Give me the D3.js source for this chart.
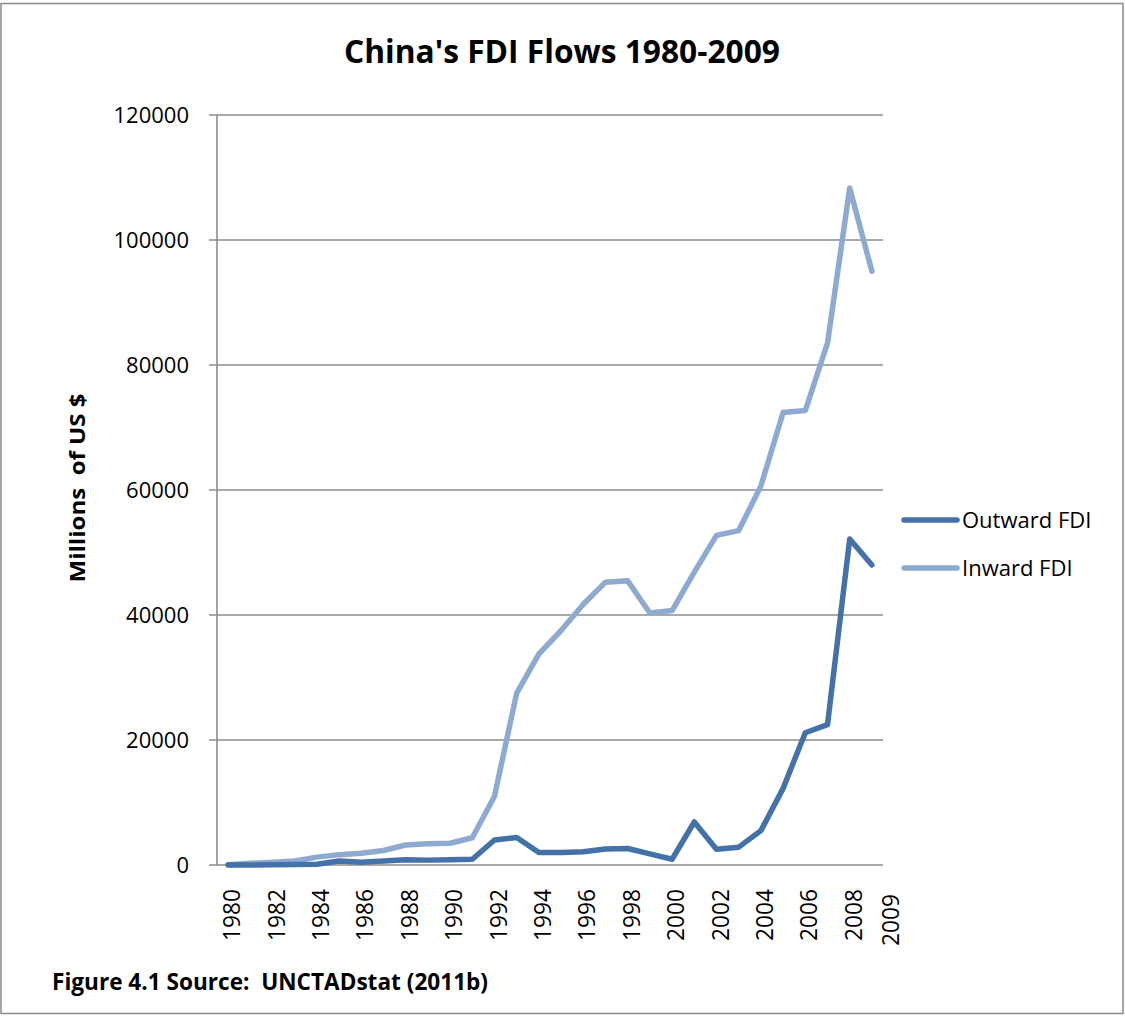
<!DOCTYPE html>
<html>
<head>
<meta charset="utf-8">
<script src="https://cdn.jsdelivr.net/npm/d3@7"></script>
<style>
  html, body { margin: 0; padding: 0; background: #fff; }
  svg { display: block; }
  text { font-family: "Open Sans", "Noto Sans", sans-serif; fill: #000; }
</style>
</head>
<body>
<div id="chart"></div>
<script>
const years = [1980,1981,1982,1983,1984,1985,1986,1987,1988,1989,1990,1991,1992,1993,1994,1995,1996,1997,1998,1999,2000,2001,2002,2003,2004,2005,2006,2007,2008,2009];
const outwardFDI = [0,0,44,93,134,629,450,645,850,780,830,913,4000,4400,2000,2000,2114,2563,2634,1775,916,6885,2518,2855,5498,12261,21160,22469,52150,48000];
const inwardFDI = [57,265,430,636,1258,1659,1875,2314,3194,3393,3487,4366,11008,27515,33767,37521,41726,45257,45463,40319,40715,46878,52743,53505,60630,72406,72715,83521,108312,95000];
const yTicks = [0,20000,40000,60000,80000,100000,120000];
const xTickLabels = [1980,1982,1984,1986,1988,1990,1992,1994,1996,1998,2000,2002,2004,2006,2008,2009];
const seriesNames = ["Outward FDI","Inward FDI"];
const seriesColors = ["#4472a8","#8faad1"];
const titleText = "China's FDI Flows 1980-2009";
const yTitle = "Millions  of US $";
const footText = "Figure 4.1 Source:  UNCTADstat (2011b)";

const W = 1125, H = 1016;
const plot = {left: 217, right: 883, top: 115, bottom: 865};

const svg = d3.select("#chart").append("svg").attr("width", W).attr("height", H);

// outer border
svg.append("rect").attr("x", 1).attr("y", 3.5).attr("width", W - 3).attr("height", 1010)
  .attr("fill", "#fff").attr("stroke", "#8a8a8a").attr("stroke-width", 1.5);

const x = d3.scaleBand().domain(years).range([plot.left, plot.right]).padding(0);
const xc = d => x(d) + x.bandwidth() / 2;
const y = d3.scaleLinear().domain([0, 120000]).range([plot.bottom, plot.top]);

// gridlines
svg.append("g").selectAll("line").data(yTicks).join("line")
  .attr("x1", plot.left - 8).attr("x2", plot.right)
  .attr("y1", d => y(d)).attr("y2", d => y(d))
  .attr("stroke", "#8c8c8c").attr("stroke-width", 1.6);

// y axis line
svg.append("line").attr("x1", plot.left).attr("x2", plot.left)
  .attr("y1", plot.top).attr("y2", plot.bottom)
  .attr("stroke", "#8c8c8c").attr("stroke-width", 1.6);

// y tick labels
svg.append("g").selectAll("text").data(yTicks).join("text")
  .attr("x", 189).attr("y", d => y(d)).attr("dy", "0.36em")
  .attr("text-anchor", "end").style("font-size", "22px")
  .text(d => d);

// x tick labels
svg.append("g").selectAll("text").data(xTickLabels).join("text")
  .attr("transform", (d, i) => {
    const last = i === xTickLabels.length - 1;
    const px = xc(d) + (last ? 18 : 3);
    const py = last ? 894 : 889;
    return `translate(${px},${py}) rotate(-90)`;
  })
  .attr("text-anchor", "end").attr("dominant-baseline", "central")
  .style("font-size", "23px")
  .attr("textLength", 52).attr("lengthAdjust", "spacingAndGlyphs")
  .text(d => d);

// lines
const line = d3.line().x((d, i) => xc(years[i])).y(d => y(d));
[inwardFDI, outwardFDI].forEach((s, k) => {
  const idx = k === 0 ? 1 : 0;
  svg.append("path").datum(s).attr("d", line)
    .attr("fill", "none").attr("stroke", seriesColors[idx]).attr("stroke-width", 5.5)
    .attr("stroke-linejoin", "round").attr("stroke-linecap", "round");
});

// title
svg.append("text").attr("x", 562).attr("y", 63).attr("text-anchor", "middle")
  .style("font-size", "33px").style("font-weight", "bold")
  .attr("textLength", 436).attr("lengthAdjust", "spacingAndGlyphs")
  .text(titleText);

// y axis title
svg.append("text").attr("transform", "translate(85,488) rotate(-90)")
  .attr("text-anchor", "middle").style("font-size", "22px").style("font-weight", "bold")
  .style("white-space", "pre")
  .attr("textLength", 189).attr("lengthAdjust", "spacingAndGlyphs")
  .text(yTitle);

// legend
const lg = svg.append("g");
seriesNames.forEach((n, i) => {
  const ly = 520 + i * 48;
  lg.append("line").attr("x1", 904).attr("x2", 957).attr("y1", ly).attr("y2", ly)
    .attr("stroke", seriesColors[i]).attr("stroke-width", 5.5).attr("stroke-linecap", "round");
  lg.append("text").attr("x", 962).attr("y", ly).attr("dy", "0.36em")
    .style("font-size", "22px").text(n);
});

// footnote
svg.append("text").attr("x", 52).attr("y", 990)
  .style("font-size", "23px").style("font-weight", "bold").style("white-space", "pre")
  .attr("textLength", 436).attr("lengthAdjust", "spacingAndGlyphs")
  .text(footText);
</script>
</body>
</html>
